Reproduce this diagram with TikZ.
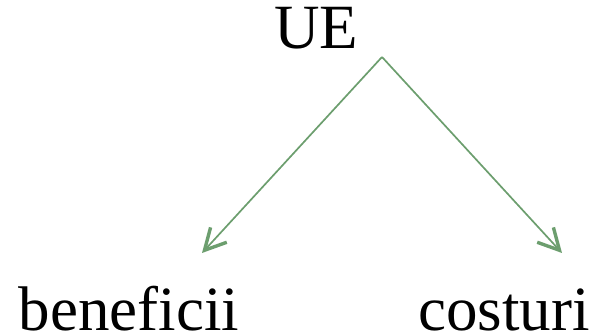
\documentclass[tikz,border=0pt]{standalone}
\usepackage{fontspec}
\setmainfont{Liberation Serif}
\usetikzlibrary{arrows.meta}
\definecolor{branchgreen}{RGB}{108,158,110}

\begin{document}
\begin{tikzpicture}[x=1pt,y=1pt,
        word/.style={inner sep=0pt, anchor=base, font=\fontsize{63}{72}\selectfont},
        branch/.style={draw=branchgreen, line width=1.7pt,
            -{Straight Barb[length=21pt,width=22pt,line width=3.4pt]}}]
        \useasboundingbox (0,0) rectangle (598,336);

        \node[word] at (316, 287) (ue) {UE};
        \node[word] at (129, 5) (ben) {beneficii};
        \node[word] at (504, 5) (cost) {costuri};

        \coordinate (fork) at (382, 279);
        \coordinate (bentip) at (202, 83);
        \coordinate (costtip) at (562, 83);

        \draw[branch] (fork) -- (bentip);
        \draw[branch] (fork) -- (costtip);
    \end{tikzpicture}
\end{document}
